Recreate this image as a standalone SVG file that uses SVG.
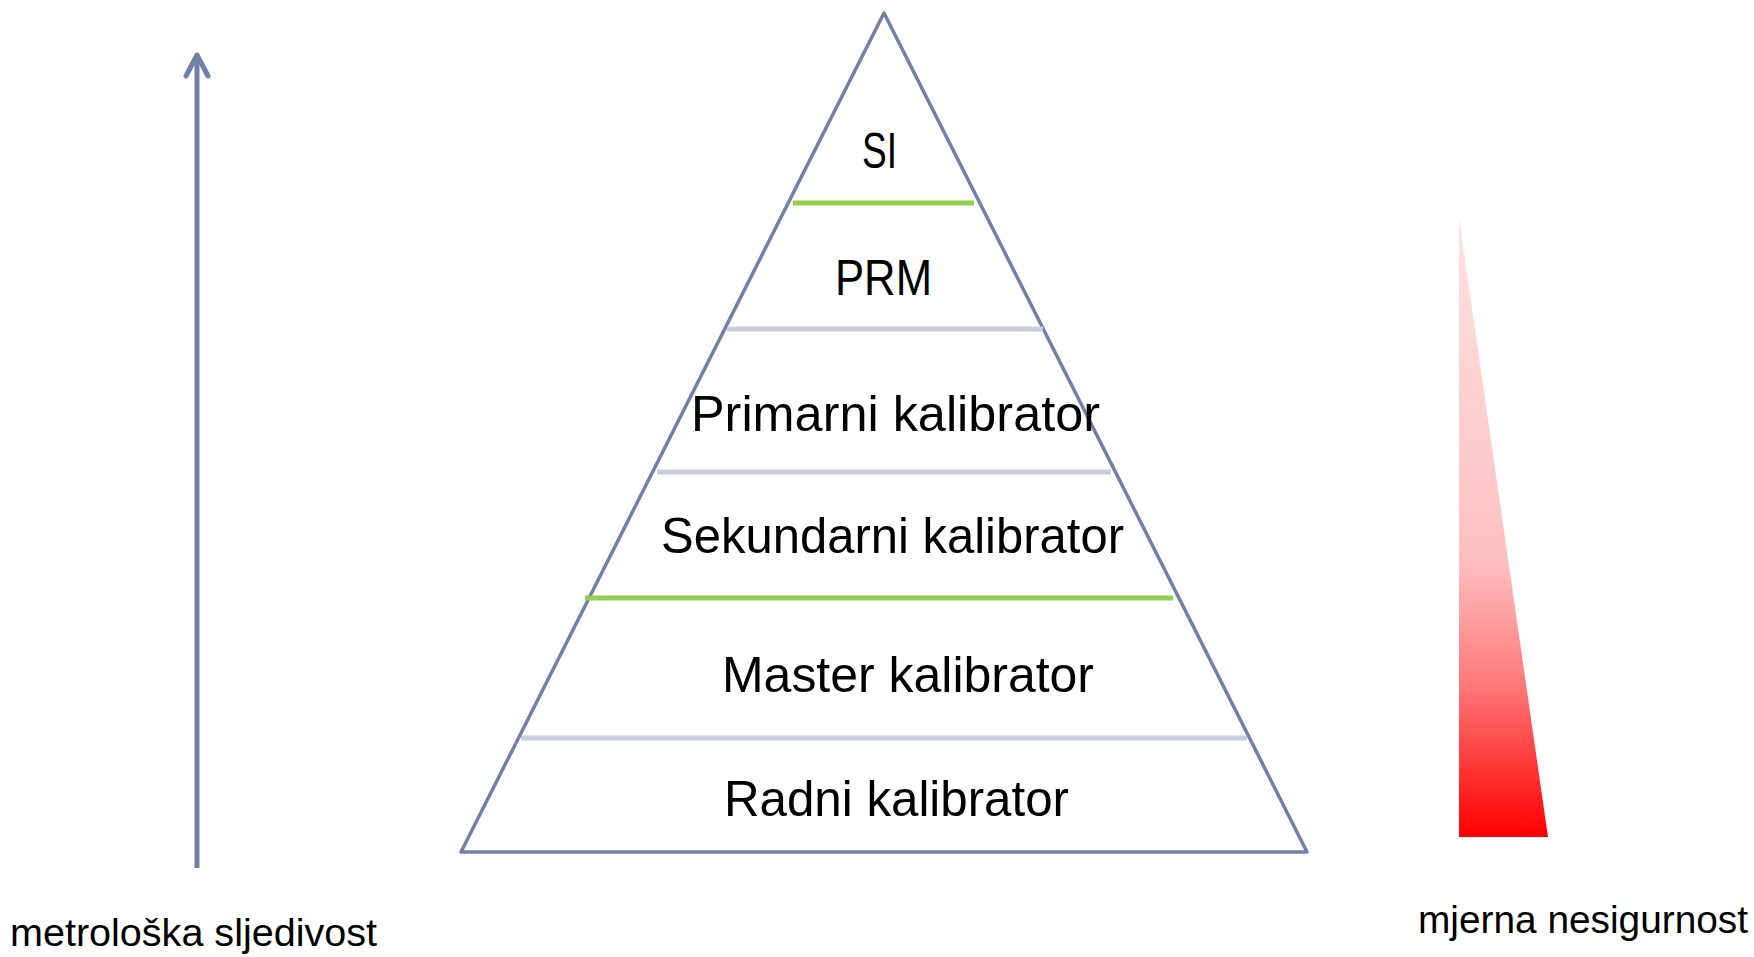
<svg xmlns="http://www.w3.org/2000/svg" width="1754" height="957" viewBox="0 0 1754 957">
<style>
.lbl{font-family:"Liberation Sans",Arial,sans-serif;font-size:50px;fill:#000}
.sub{font-family:"Liberation Sans",Arial,sans-serif;font-size:38px;fill:#000}
.gray{stroke:#c8ccdc;stroke-width:5}
.green{stroke:#92d050;stroke-width:5}
</style>
<defs>
<linearGradient id="redgrad" x1="0" y1="0" x2="0" y2="1">
<stop offset="0" stop-color="#ffe2e2"/>
<stop offset="0.55" stop-color="#ffc0c2"/>
<stop offset="0.75" stop-color="#ff7a7a"/>
<stop offset="1" stop-color="#ff0000"/>
</linearGradient>
</defs>
<rect width="1754" height="957" fill="#fff"/>
<g id="traceability-arrow">
<line x1="197" y1="868" x2="197" y2="57" stroke="#7280a8" stroke-width="5"/>
<polyline points="186,76 197,55 208,76" fill="none" stroke="#7280a8" stroke-width="5" stroke-linecap="round" stroke-linejoin="round"/>
</g>
<g id="pyramid">
<polygon points="884,13 461,852 1307,852" fill="none" stroke="#7280a8" stroke-width="3.5" stroke-linejoin="round"/>
</g>
<g id="connectors">
<line class="green" x1="793" y1="203" x2="974" y2="203"/>
<line class="gray" x1="727" y1="329" x2="1043" y2="329"/>
<line class="gray" x1="657" y1="472" x2="1111" y2="472"/>
<line class="green" x1="585" y1="598" x2="1173" y2="598"/>
<line class="gray" x1="521" y1="738" x2="1247" y2="738"/>
</g>
<g id="level-si"><text class="lbl" x="862" y="168" textLength="35" lengthAdjust="spacingAndGlyphs">SI</text></g>
<g id="level-prm"><text class="lbl" x="835" y="295" textLength="97" lengthAdjust="spacingAndGlyphs">PRM</text></g>
<g id="level-primarni"><text class="lbl" x="691" y="431" textLength="409" lengthAdjust="spacingAndGlyphs">Primarni kalibrator</text></g>
<g id="level-sekundarni"><text class="lbl" x="661" y="553" textLength="463" lengthAdjust="spacingAndGlyphs">Sekundarni kalibrator</text></g>
<g id="level-master"><text class="lbl" x="722" y="692" textLength="372" lengthAdjust="spacingAndGlyphs">Master kalibrator</text></g>
<g id="level-radni"><text class="lbl" x="724" y="816" textLength="345" lengthAdjust="spacingAndGlyphs">Radni kalibrator</text></g>
<g id="uncertainty-wedge">
<polygon points="1459,218 1459,837 1548,837" fill="url(#redgrad)"/>
</g>
<g id="label-traceability"><text class="sub" x="10" y="946" textLength="367" lengthAdjust="spacingAndGlyphs">metrološka sljedivost</text></g>
<g id="label-uncertainty"><text class="sub" x="1418" y="933" textLength="330" lengthAdjust="spacingAndGlyphs">mjerna nesigurnost</text></g>
</svg>
